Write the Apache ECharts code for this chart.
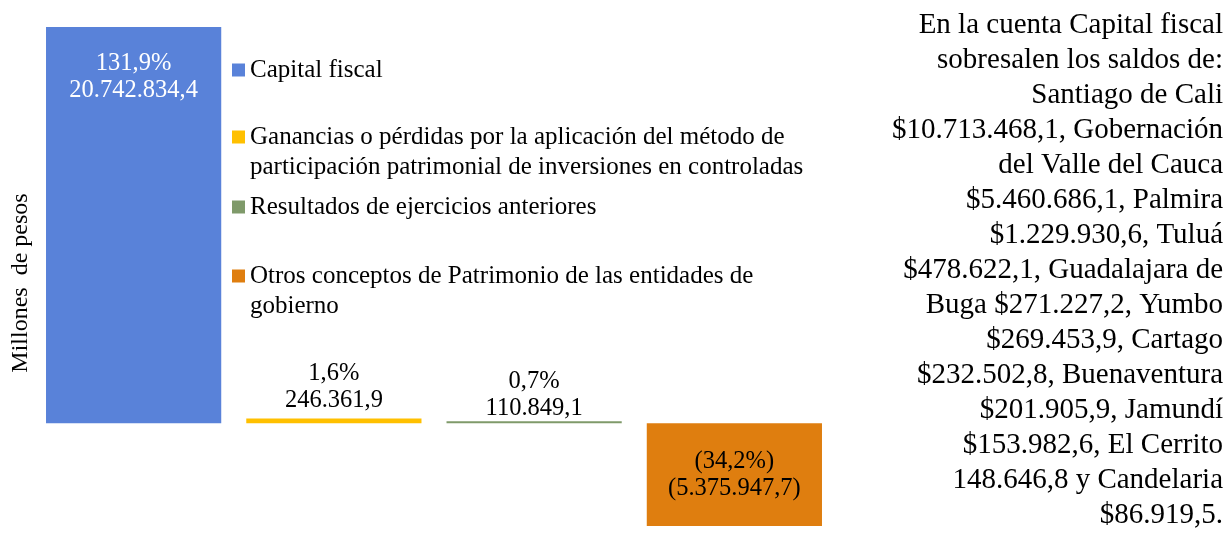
<!DOCTYPE html>
<html>
<head>
    <meta charset="utf-8">
    <title>Patrimonio</title>
    <script src="https://cdn.jsdelivr.net/npm/echarts@6/dist/echarts.min.js"></script>
    <style type="text/css">
        html, body {
            margin: 0;
            height: 100%;
            background: #fff;
        }
    </style>
</head>
<body>
<div id="main" style="width: 1229px;height:545px;"></div>
<script type="text/javascript">
    var categories = [
        'Capital fiscal',
        'Ganancias o pérdidas por la aplicación del método de participación patrimonial de inversiones en controladas',
        'Resultados de ejercicios anteriores',
        'Otros conceptos de Patrimonio de las entidades de gobierno'
    ];
    var values = [20742834.4, 246361.9, 110849.1, -5375947.7];
    var percents = [131.9, 1.6, 0.7, -34.2];
    var colors = ['#5982d9', '#ffc000', '#7f9a6a', '#df7e0f'];
    // texto del legend con saltos de linea como en el original
    var legendLabels = [
        'Capital fiscal',
        'Ganancias o pérdidas por la aplicación del método de\nparticipación patrimonial de inversiones en controladas',
        'Resultados de ejercicios anteriores',
        'Otros conceptos de Patrimonio de las entidades de\ngobierno'
    ];
    var noteLines = [
        'En la cuenta Capital fiscal',
        'sobresalen los saldos de:',
        'Santiago de Cali',
        '$10.713.468,1, Gobernación',
        'del Valle del Cauca',
        '$5.460.686,1, Palmira',
        '$1.229.930,6, Tuluá',
        '$478.622,1, Guadalajara de',
        'Buga $271.227,2, Yumbo',
        '$269.453,9, Cartago',
        '$232.502,8, Buenaventura',
        '$201.905,9, Jamundí',
        '$153.982,6, El Cerrito',
        '148.646,8 y Candelaria',
        '$86.919,5.'
    ];

    var serif = '"Liberation Serif", "Times New Roman", serif';

    function fmtNum(v, dec) {
        var parts = Math.abs(v).toFixed(dec).split('.');
        var ent = parts[0].replace(/\B(?=(\d{3})+(?!\d))/g, '.');
        var s = ent + (parts[1] ? ',' + parts[1] : '');
        return v < 0 ? '(' + s + ')' : s;
    }
    function fmtPct(p) {
        var s = Math.abs(p).toFixed(1).replace('.', ',') + '%';
        return p < 0 ? '(' + s + ')' : s;
    }

    var myChart = echarts.init(document.getElementById('main'), null, {renderer: 'canvas'});

    var labelCfg = [
        {position: 'insideTop', distance: 23, color: '#fff'},
        {position: 'top', distance: 5, color: '#000'},
        {position: 'top', distance: -1, color: '#000'},
        {position: 'inside', distance: 0, color: '#000'}
    ];

    var series = categories.map(function (name, i) {
        var data = categories.map(function (c, j) { return j === i ? values[i] : '-'; });
        return {
            name: name,
            type: 'bar',
            stack: 'total',
            barWidth: '87.5%',
            data: data,
            itemStyle: {color: colors[i]},
            label: {
                show: true,
                position: labelCfg[i].position,
                distance: labelCfg[i].distance,
                color: labelCfg[i].color,
                fontFamily: serif,
                fontSize: 24.5,
                lineHeight: 27,
                formatter: function () {
                    return fmtPct(percents[i]) + '\n' + fmtNum(values[i], 1);
                }
            },
            emphasis: {disabled: true}
        };
    });

    // el icono queda en la primera linea: se antepone una linea vacia
    var legendTops = [55, 92, 192, 231];
    var legends = categories.map(function (name, i) {
        var twoLines = legendLabels[i].indexOf('\n') >= 0;
        return {
            data: [name],
            left: 232,
            top: legendTops[i],
            padding: 0,
            itemWidth: 13,
            itemHeight: 13,
            icon: 'rect',
            selectedMode: false,
            formatter: function () { return (twoLines ? ' \n' : '') + legendLabels[i]; },
            textStyle: {
                fontFamily: serif,
                fontSize: 25,
                lineHeight: 30,
                color: '#000'
            }
        };
    });

    var option = {
        animation: false,
        color: colors,
        grid: {left: 33.5, right: 394.5, top: 27, bottom: 19},
        legend: legends,
        xAxis: {
            type: 'category',
            data: categories,
            axisLine: {show: false},
            axisTick: {show: false},
            axisLabel: {show: false}
        },
        yAxis: {
            type: 'value',
            min: function (v) { return v.min; },
            max: function (v) { return v.max; },
            axisLine: {show: false},
            axisTick: {show: false},
            axisLabel: {show: false},
            splitLine: {show: false},
            name: 'Millones  de pesos',
            nameLocation: 'middle',
            nameGap: 1,
            nameTextStyle: {
                fontFamily: serif,
                fontSize: 24,
                color: '#000',
                padding: [0, 13, 0, 0]
            }
        },
        graphic: [{
            type: 'text',
            x: 1223,
            y: 8,
            style: {
                text: noteLines.join('\n'),
                textAlign: 'right',
                align: 'right',
                font: '29px ' + serif,
                lineHeight: 35,
                fill: '#000'
            }
        }],
        series: series
    };

    myChart.setOption(option);

    window.addEventListener("resize", function () {
        myChart.resize();
    });
</script>
</body>
</html>
